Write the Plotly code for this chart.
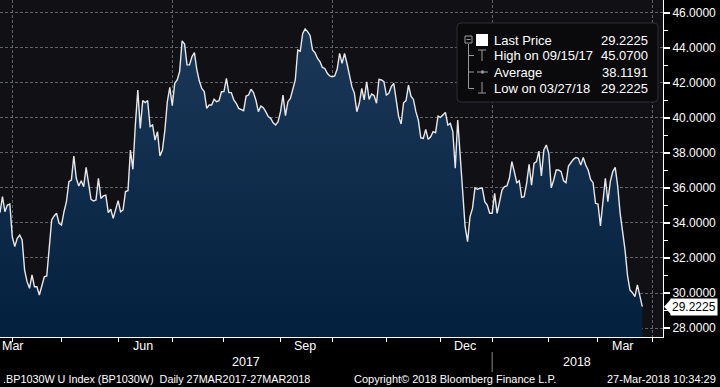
import plotly.graph_objects as go
import pandas as pd

# ---------------- data ----------------
start_date = "2017-03-27"
end_date = "2018-03-27"
values = [
    34.59, 35.50, 34.64, 35.02, 35.08, 33.21, 32.65, 33.12, 33.31, 33.03,
    31.31, 30.65, 30.27, 31.03, 30.36, 30.36, 29.89, 30.36, 30.93, 30.97,
    32.46, 34.17, 34.40, 34.55, 33.98, 33.88, 34.64, 35.21, 36.36, 36.45,
    37.82, 36.55, 36.11, 36.41, 36.07, 37.17, 36.26, 35.35, 35.25, 35.31,
    36.55, 35.40, 35.54, 35.59, 34.59, 34.78, 34.26, 34.80, 35.27, 34.64,
    34.74, 35.79, 35.84, 38.16, 37.06, 39.60, 41.59, 39.40, 40.98, 40.87,
    40.98, 39.50, 39.59, 38.73, 39.21, 37.82, 38.16, 39.30, 40.92, 41.74,
    40.70, 41.97, 42.16, 42.64, 44.39, 44.21, 43.02, 43.02, 43.49, 43.72,
    42.73, 42.10, 41.68, 41.50, 40.54, 40.73, 40.73, 41.06, 40.92, 40.98,
    41.49, 41.50, 42.25, 41.44, 41.44, 41.02, 40.83, 40.54, 40.48, 40.41,
    41.24, 41.30, 41.63, 41.44, 41.00, 40.35, 40.67, 40.58, 40.35, 40.07,
    39.97, 39.72, 39.59, 39.78, 40.35, 41.30, 40.13, 40.92, 41.11, 41.59,
    42.16, 43.87, 43.80, 44.82, 45.07, 44.92, 44.70, 43.87, 43.72, 43.40,
    43.21, 42.88, 42.82, 42.54, 42.39, 42.35, 42.39, 42.77, 43.68, 43.11,
    43.68, 43.10, 42.35, 41.78, 41.40, 40.35, 40.83, 41.68, 41.02, 42.06,
    41.05, 41.36, 41.27, 40.83, 42.20, 42.16, 42.06, 41.30, 41.40, 41.78,
    41.97, 41.00, 40.07, 39.65, 40.86, 40.98, 41.87, 41.24, 41.05, 40.35,
    39.87, 38.86, 38.83, 39.34, 38.77, 38.92, 39.21, 39.15, 40.10, 40.03,
    40.16, 40.31, 39.59, 39.68, 39.21, 37.12, 39.88, 37.97, 35.50, 33.80,
    32.93, 34.36, 34.83, 36.00, 35.92, 35.98, 35.98, 35.21, 35.02, 34.55,
    34.55, 35.69, 34.55, 35.21, 35.88, 36.07, 36.11, 36.55, 37.50, 36.93,
    36.30, 36.41, 35.46, 35.50, 36.26, 37.35, 36.16, 37.40, 37.50, 38.10,
    36.68, 38.16, 38.45, 37.97, 36.00, 36.45, 37.02, 37.02, 36.93, 36.41,
    36.30, 37.25, 37.44, 37.63, 37.74, 37.69, 37.30, 37.74, 37.31, 37.02,
    36.49, 36.30, 35.12, 35.08, 33.83, 35.12, 36.55, 35.21, 36.36, 36.93,
    37.17, 36.11, 34.55, 33.50, 32.45, 31.00, 30.17, 30.02, 29.80, 30.46,
    29.89, 29.2225,
]
dates = pd.bdate_range(start_date, end_date)

x_range = ["2017-03-27", "2018-04-06 10:00"]
y_range = [27.49, 46.725]

quarter_starts = ["2017-04-03", "2017-07-03", "2017-10-02", "2018-01-01", "2018-04-02"]
month_starts = ["2017-05-01", "2017-06-01", "2017-08-01", "2017-09-01",
                "2017-11-01", "2017-12-01", "2018-02-01", "2018-03-01"]
month_labels = ["Mar", "Jun", "Sep", "Dec", "Mar"]
month_label_dates = ["2017-03-27", "2017-06-15", "2017-09-15", "2017-12-15", "2018-03-15"]
year_labels = ["2017", "2018"]
year_label_dates = ["2017-08-14", "2018-02-16 12:00"]
year_divider_date = "2018-01-01"

legend_names = ["Last Price", "High on 09/15/17", "Average", "Low on 03/27/18"]
legend_values = ["29.2225", "45.0700", "38.1191", "29.2225"]
last_price_label = "29.2225"

footer_left = ".BP1030W U Index (BP1030W)  Daily 27MAR2017-27MAR2018"
footer_mid = "Copyright\u00a9 2018 Bloomberg Finance L.P."
footer_right = "27-Mar-2018 10:34:29"

# ---------------- layout helpers ----------------
W, H = 720, 387
ML, MR, MT, MB = 0, 57, 0, 50
PW, PH = W - ML - MR, H - MT - MB
FONT = "Liberation Sans, Arial, sans-serif"
GRID = "#5f636c"


def px(x):
    return (x - ML) / PW


def py(y):
    return 1 - (y - MT) / PH


fig = go.Figure()
fig.add_trace(go.Scatter(
    x=dates, y=values, mode="lines",
    line=dict(color="#e8e8e8", width=1.4),
    fill="tozeroy",
    fillgradient=dict(type="vertical",
                      colorscale=[[0, "#03203f"], [1, "#1c3858"]],
                      start=y_range[0], stop=45.2),
    hoverinfo="skip", showlegend=False,
))

shapes = []
annotations = []

# legend box with rounded corners
bx0, bx1, by0, by1, r = px(457), px(658), py(102), py(23), 4
rx, ry = r / PW, r / PH
path = (f"M {bx0+rx} {by1} L {bx1-rx} {by1} Q {bx1} {by1} {bx1} {by1-ry} "
        f"L {bx1} {by0+ry} Q {bx1} {by0} {bx1-rx} {by0} L {bx0+rx} {by0} "
        f"Q {bx0} {by0} {bx0} {by0+ry} L {bx0} {by1-ry} Q {bx0} {by1} {bx0+rx} {by1} Z")
shapes.append(dict(type="path", xref="paper", yref="paper", path=path,
                   fillcolor="#0a0a0c", line=dict(color="#2f2f34", width=1), layer="above"))

ICON = "#9a9a9a"


def seg(x0, y0, x1, y1, color=ICON, w=1):
    shapes.append(dict(type="line", xref="paper", yref="paper",
                       x0=px(x0), y0=py(y0), x1=px(x1), y1=py(y1),
                       line=dict(color=color, width=w), layer="above"))


# collapse box icon
shapes.append(dict(type="rect", xref="paper", yref="paper",
                   x0=px(465), x1=px(472), y0=py(43), y1=py(36),
                   line=dict(color=ICON, width=1), fillcolor="rgba(0,0,0,0)", layer="above"))
seg(466.5, 39.5, 470.5, 39.5)
# white square
shapes.append(dict(type="rect", xref="paper", yref="paper",
                   x0=px(476), x1=px(488), y0=py(46), y1=py(34),
                   line=dict(color="white", width=0), fillcolor="white", layer="above"))
# tree lines
seg(468.5, 44, 468.5, 88.5)
for yy in (55.5, 72, 88.5):
    seg(468.5, yy, 474, yy)
# high icon
seg(478, 50, 486, 50)
seg(482, 50, 482, 61)
# average icon
seg(477, 72, 488, 72)
shapes.append(dict(type="circle", xref="paper", yref="paper",
                   x0=px(480.8), x1=px(484.2), y0=py(73.7), y1=py(70.3),
                   fillcolor=ICON, line=dict(color=ICON, width=0), layer="above"))
# low icon
seg(482, 82, 482, 93)
seg(478, 93, 486, 93)

row_y = [40.5, 56, 72, 88]
for name, val, yy in zip(legend_names, legend_values, row_y):
    annotations.append(dict(xref="paper", yref="paper", x=px(492), y=py(yy),
                            xanchor="left", yanchor="middle", text=name, showarrow=False,
                            font=dict(family=FONT, size=13, color="white")))
    annotations.append(dict(xref="paper", yref="paper", x=px(650), y=py(yy),
                            xanchor="right", yanchor="middle", text=val, showarrow=False,
                            font=dict(family=FONT, size=13, color="white")))

# last price tag on the right axis
last_val = values[-1]
shapes.append(dict(type="path", xref="paper", yref="y",
                   path=f"M {px(664)} {last_val} L {px(671)} {last_val + 0.43} "
                        f"L {px(671)} {last_val - 0.43} Z",
                   fillcolor="white", line=dict(color="white", width=0), layer="above"))
annotations.append(dict(xref="paper", yref="y", x=px(670), y=last_val,
                        xanchor="left", yanchor="middle", text=last_price_label,
                        showarrow=False, bgcolor="white", borderpad=1,
                        font=dict(family=FONT, size=12, color="black")))

# month labels, year labels, divider
for lab, d in zip(month_labels, month_label_dates):
    annotations.append(dict(xref="x", yref="paper", x=d, y=py(346),
                            xanchor="left" if d == month_label_dates[0] else "center",
                            yanchor="middle", text=lab, showarrow=False,
                            font=dict(family=FONT, size=12.5, color="white")))
for lab, d in zip(year_labels, year_label_dates):
    annotations.append(dict(xref="x", yref="paper", x=d, y=py(362),
                            xanchor="center", yanchor="middle", text=lab, showarrow=False,
                            font=dict(family=FONT, size=12.5, color="white")))
shapes.append(dict(type="line", xref="x", yref="paper",
                   x0=year_divider_date, x1=year_divider_date, y0=py(352), y1=py(372),
                   line=dict(color="#8a8a8a", width=1)))

# footer
annotations.append(dict(xref="paper", yref="paper", x=px(1), y=py(379), xanchor="left",
                        yanchor="middle", text=footer_left, showarrow=False,
                        font=dict(family=FONT, size=10.8, color="white")))
annotations.append(dict(xref="paper", yref="paper", x=px(352), y=py(379), xanchor="left",
                        yanchor="middle", text=footer_mid, showarrow=False,
                        font=dict(family=FONT, size=11, color="white")))
annotations.append(dict(xref="paper", yref="paper", x=px(718), y=py(379), xanchor="right",
                        yanchor="middle", text=footer_right, showarrow=False,
                        font=dict(family=FONT, size=11, color="white")))

fig.update_layout(
    width=W, height=H,
    margin=dict(l=ML, r=MR, t=MT, b=MB, pad=0, autoexpand=False),
    paper_bgcolor="#000000", plot_bgcolor="#111115",
    showlegend=False,
    shapes=shapes, annotations=annotations,
    xaxis=dict(
        type="date", range=x_range,
        rangebreaks=[dict(bounds=["sat", "mon"])],
        tickmode="array", tickvals=quarter_starts, showticklabels=False,
        ticks="outside", ticklen=4, tickcolor="white", tickwidth=1,
        showgrid=True, gridcolor=GRID, gridwidth=1, griddash="3px,2px",
        minor=dict(tickvals=month_starts, ticks="outside", ticklen=4,
                   tickcolor="white", tickwidth=1, showgrid=False),
        showline=True, linecolor="white", linewidth=1,
        zeroline=False, fixedrange=True, automargin=False,
    ),
    yaxis=dict(
        side="right", range=y_range,
        tick0=0, dtick=2, tickformat=".4f",
        ticks="outside", ticklen=6, tickwidth=2, tickcolor="white",
        minor=dict(dtick=1, ticks="outside", ticklen=4, tickcolor="white",
                   tickwidth=1, showgrid=False),
        showgrid=True, gridcolor=GRID, gridwidth=1, griddash="3px,2px",
        showline=True, linecolor="white", linewidth=1,
        tickfont=dict(family=FONT, size=12, color="white"),
        zeroline=False, fixedrange=True, automargin=False,
    ),
)

fig.write_html(
    "out.html",
    config={"displayModeBar": False},
    post_script="document.body.style.margin='0';document.body.style.overflow='hidden';",
)
